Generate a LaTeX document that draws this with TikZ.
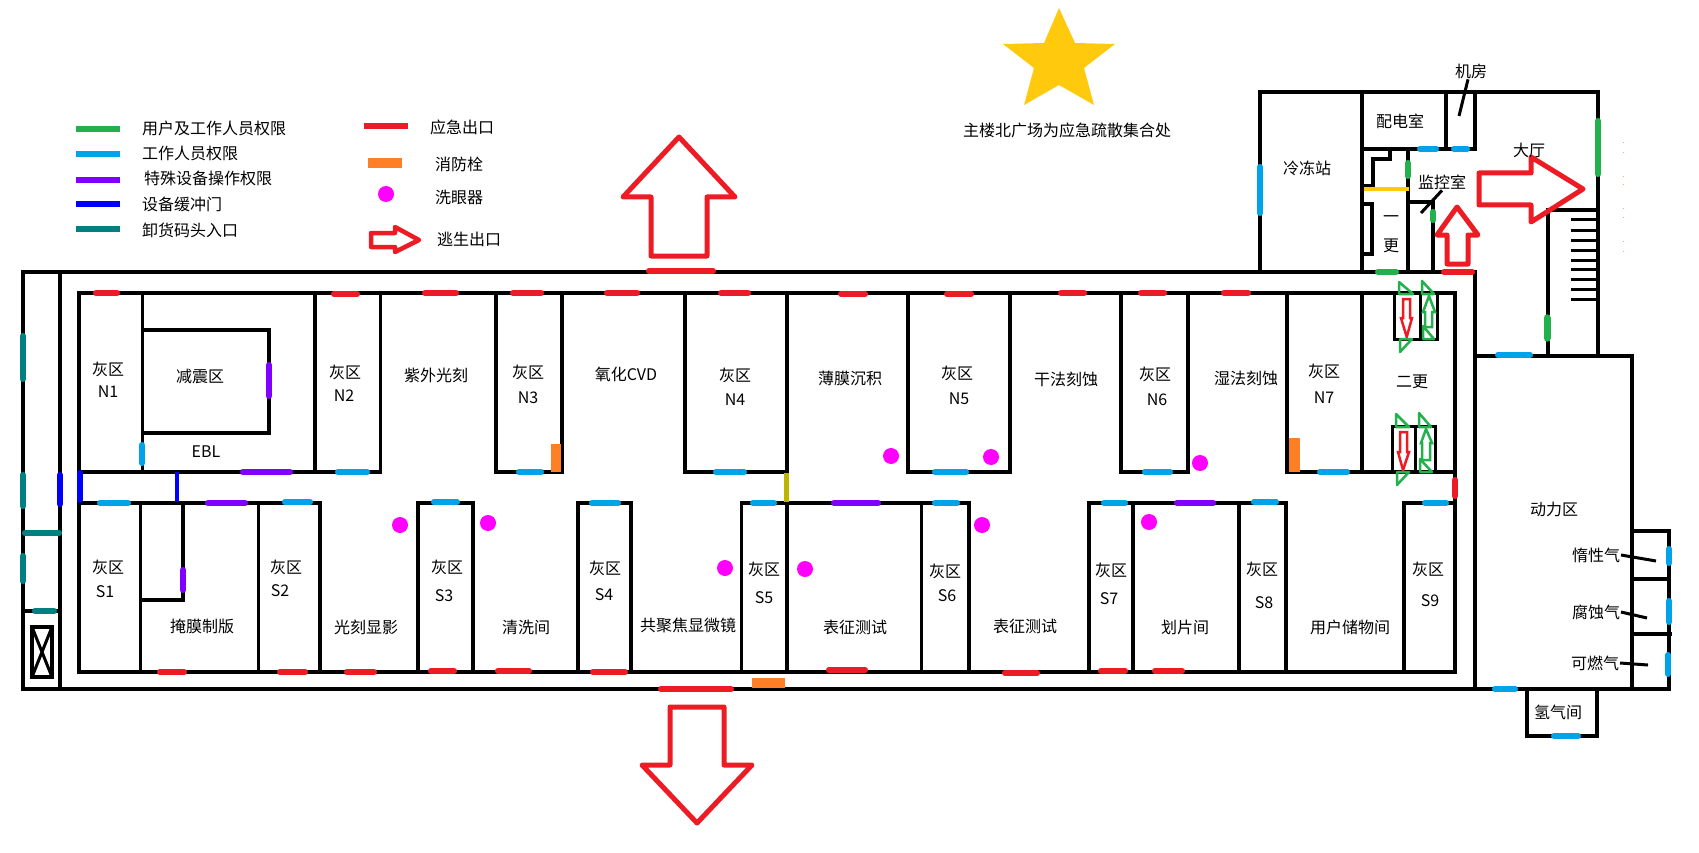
\documentclass[tikz,border=0pt]{standalone}
\usepackage{fontspec}
\setmainfont{Noto Sans CJK SC}
\definecolor{usergreen}{HTML}{22B14C}
\definecolor{staffblue}{HTML}{00A2E8}
\definecolor{specpurple}{HTML}{8000FF}
\definecolor{bufblue}{HTML}{0000FF}
\definecolor{dockteal}{HTML}{008080}
\definecolor{exitred}{HTML}{ED1C24}
\definecolor{hoseorange}{HTML}{FF7F27}
\definecolor{washpink}{HTML}{FF00FF}
\definecolor{staryellow}{HTML}{FFC90E}
\definecolor{gateolive}{HTML}{BCB400}

\begin{document}
\begin{tikzpicture}[x=1pt,y=-1pt,
wall/.style={draw,line width=3.6pt,line cap=rect,line join=miter},
thinwall/.style={draw,line width=3pt,line cap=rect},
door/.style={line width=5.6pt,line cap=round,shorten >=2.8pt,shorten <=2.8pt},
legendline/.style={line width=5.6pt},
leader/.style={line width=3pt},
escape/.style={draw=exitred,line width=5pt,line join=round},
minidown/.style={draw=exitred,line width=2.5pt},
miniup/.style={draw=usergreen,line width=2.5pt},
flag/.style={draw=usergreen,line width=2.5pt,line join=round},
washer/.style={circle,fill=washpink,inner sep=0pt,minimum size=16pt},
txt/.style={font=\fontsize{16}{16}\selectfont,inner sep=0pt,outer sep=1pt},
legendtxt/.style={txt,anchor=west}]

\useasboundingbox (0,0) rectangle (1699,853);

% legend
\foreach \col/\ya in {usergreen/129,staffblue/154,specpurple/180,bufblue/204,dockteal/229}
  \draw[legendline,\col] (76,\ya) -- (120,\ya);
\node[legendtxt] (keyuser) at (141,128) {用户及工作人员权限};
\node[legendtxt] (keystaff) at (141,153) {工作人员权限};
\node[legendtxt] (keyspec) at (143,178) {特殊设备操作权限};
\node[legendtxt] (keybuf) at (141,204) {设备缓冲门};
\node[legendtxt] (keydock) at (141,230) {卸货码头入口};
\draw[legendline,exitred] (364,126) -- (408,126);
\node[legendtxt] (keyexit) at (429,127) {应急出口};
\fill[hoseorange] (368,158) rectangle (402,168);
\node[legendtxt] (keyhose) at (434,164) {消防栓};
\node[washer] (keywash) at (386,194) {};
\node[legendtxt] (keywasher) at (434,197) {洗眼器};
\draw[escape,line width=4.5pt] (371,233) -- (395,233) -- (395,227) -- (419,240) -- (395,252) -- (395,247) -- (371,247) -- cycle;
\node[legendtxt] (keyescape) at (436,239) {逃生出口};

% assembly point
\fill[staryellow] (1059,8) -- (1075,43) -- (1115,44) -- (1084,68) -- (1094,105) -- (1059,85) -- (1024,105) -- (1034,68) -- (1003,44) -- (1044,43) -- cycle;
\node[txt] (assembly) at (1067,130) {主楼北广场为应急疏散集合处};

% outer walls
\draw[wall] (1475,272) -- (23,272) -- (23,689) -- (1669,689) -- (1669,531) -- (1632,531);
\draw[wall] (60,272) -- (60,689);
\draw[wall] (1475,272) -- (1475,689);
\draw[wall] (23,611) -- (60,611);
\draw[wall] (32,627) rectangle (52,677);
\draw[thinwall,line cap=butt] (32,627) -- (52,677) (52,627) -- (32,677);

% north wing and south wing
\draw[wall] (79,672) -- (79,293) -- (1455,293) -- (1455,672) -- cycle;
\foreach \xa in {142.5,315,380.5,496,562,685,787,908,1010,1121,1188,1287,1362}
  \draw[wall] (\xa,293) -- (\xa,472);
\foreach \xa/\xb in {79/380.5,496/562,685/787,908/1010,1121/1188,1287/1455}
  \draw[wall] (\xa,472) -- (\xb,472);
\foreach \xa/\xb in {79/320,418/473,578/631,741.5/969,1089/1286,1404/1455}
  \draw[wall] (\xa,503) -- (\xb,503);
\foreach \xa in {140.5,258.5,320,418,473,578,631,741.5,787,921.5,969,1089,1133,1239,1286,1404}
  \draw[wall] (\xa,503) -- (\xa,672);
\draw[wall] (142.5,330) -- (269,330) -- (269,433) -- (142.5,433);
\draw[wall] (183,503) -- (183,600) -- (140.5,600);

% changing room boxes
\draw[thinwall] (1394,293) -- (1394,339) -- (1437,339) -- (1437,293) (1420,293) -- (1420,339);
\draw[thinwall] (1392,472) -- (1392,426) -- (1435,426) -- (1435,472) (1415,426) -- (1415,472);

% top block
\draw[wall] (1260,272) -- (1260,92) -- (1598,92) -- (1598,356);
\draw[wall] (1362,92) -- (1362,272);
\draw[wall] (1446,92) -- (1446,149);
\draw[wall] (1475,92) -- (1475,149) -- (1362,149);
\draw[wall] (1408,149) -- (1408,272);
\draw[wall] (1390,149) -- (1390,159) -- (1373,159) -- (1373,186) -- (1362,186);
\draw[wall] (1408,202) -- (1433,202) -- (1433,272);
\draw[wall] (1362,204) -- (1372,204) -- (1372,254) -- (1362,254);
\draw[wall] (1598,210) -- (1548,210) -- (1548,356);
\foreach \ya in {219,230,240,250,260,269,279,289,299}
  \draw[line width=3pt] (1571,\ya) -- (1598,\ya);

% utility rooms
\draw[wall] (1475,356) -- (1632,356) -- (1632,689);
\draw[wall] (1632,579) -- (1669,579);
\draw[wall] (1632,634) -- (1670,634);
\draw[wall] (1527,689) -- (1527,736) -- (1597,736) -- (1597,689);

% exits
\foreach \xa/\xb/\ya in {93/120/293,331/360/294,422/459/293,510/544/293,604/640/293,718/751/293,838/868/294,944/974/294,1058/1087/293,1138/1167/293,1221/1251/293,
  157/187/672,277/308/672,344/377/672,428/457/671,495/532/671,590/628/672,826/868/670,1002/1040/673,1098/1128/671,1152/1185/671,
  646/716/271,658/734/689,1441/1475/272}
  \draw[door,exitred] (\xa,\ya) -- (\xb,\ya);
\draw[door,exitred] (1455,477) -- (1455,499);

% staff doors
\foreach \xa/\xb/\ya in {335/370/472,516/544/472,713/747/472,932/969/472,1142/1173/472,1317/1350/472,
  97/131/503,282/313/502,431/460/502,589/621/503,750/777/503,932/960/503,1101/1128/503,1251/1279/502,1422/1449/503,
  1417/1439/149,1451/1470/149,1495/1533/355,1492/1518/689,1551/1581/736}
  \draw[door,staffblue] (\xa,\ya) -- (\xb,\ya);
\foreach \xa/\ya/\yb in {142/442/466,1260/164/216,1669/546/566,1669/598/625,1668/652/677}
  \draw[door,staffblue] (\xa,\ya) -- (\xa,\yb);

% user doors
\foreach \xa/\ya/\yb in {1598/118/177,1408/160/179,1433/209/223}
  \draw[door,usergreen] (\xa,\ya) -- (\xa,\yb);
\draw[door,usergreen,line width=7pt] (1547,315) -- (1547,341);
\draw[door,usergreen] (1375,272) -- (1399,272);

% special doors
\foreach \xa/\xb/\ya in {240/293/472,205/248/503,831/881/503,1174/1216/503}
  \draw[door,specpurple] (\xa,\ya) -- (\xb,\ya);
\foreach \xa/\ya/\yb in {269/362/399,183/567/593}
  \draw[door,specpurple] (\xa,\ya) -- (\xa,\yb);

% buffer doors and dock doors
\foreach \xa/\ya/\yb in {60/472/507,80/470/503}
  \draw[door,bufblue] (\xa,\ya) -- (\xa,\yb);
\draw[bufblue,line width=4pt] (177,472) -- (177,502);
\foreach \ya/\yb in {333/382,472/509,553/584}
  \draw[door,dockteal] (23,\ya) -- (23,\yb);
\draw[door,dockteal] (22,533) -- (62,533);
\draw[door,dockteal] (32,611) -- (57,611);

% other fittings
\draw[door,gateolive,shorten >=0pt,shorten <=0pt,line cap=butt] (786.5,473) -- (786.5,502);
\draw[staryellow,line width=4pt] (1364,189) -- (1409,189);
\fill[hoseorange] (551,444) rectangle (561,472);
\fill[hoseorange] (1289,438) rectangle (1300,472);
\fill[hoseorange] (752,678) rectangle (785,688);
\foreach \xa/\ya [count=\i] in {400/525,488/523,725/568,805/569,891/456,991/457,1200/463,982/525,1149/522}
  \node[washer] (wash\i) at (\xa,\ya) {};
\foreach \ya in {142,152,176,184,208,217,241,251}
  \fill[hoseorange!70] (1622.5,\ya) rectangle +(1,1);

% escape arrows
\draw[escape] (679,137) -- (735,197) -- (707,197) -- (707,256) -- (651,256) -- (651,197) -- (623,197) -- cycle;
\draw[escape] (697,823) -- (752,765) -- (724,765) -- (724,707) -- (670,707) -- (670,765) -- (642,765) -- cycle;
\draw[escape] (1583,189) -- (1531,157) -- (1531,173) -- (1479,173) -- (1479,205) -- (1531,205) -- (1531,222) -- cycle;
\draw[escape] (1457,207) -- (1478,235) -- (1468,235) -- (1468,264) -- (1447,264) -- (1447,235) -- (1437,235) -- cycle;

% changing room arrows
\draw[minidown] (1406.7,337) -- (1412,318) -- (1410,318) -- (1410,299) -- (1403,299) -- (1403,318) -- (1401,318) -- cycle;
\draw[minidown] (1403,470) -- (1409,452) -- (1407,452) -- (1407,432) -- (1400,432) -- (1400,452) -- (1398,452) -- cycle;
\draw[miniup] (1429,296) -- (1435,312) -- (1432,312) -- (1432,327) -- (1425,327) -- (1425,312) -- (1423,312) -- cycle;
\draw[miniup] (1426,429) -- (1432,443) -- (1430,443) -- (1430,460) -- (1422,460) -- (1422,443) -- (1421,443) -- cycle;
\foreach \xa/\ya/\xb/\yb in {1399/282/1413/294,1422/281/1434/294,1400/352/1412/339,1423/326/1434/339,1396/414/1409/427,1419/413/1431/427,1397/485/1409/472,1420/459/1432/472}
  \draw[flag] (\xa,\ya) -- (\xa,\yb) -- (\xb,\yb) -- cycle;

% grey zones
\foreach \nm/\xa/\ya/\xb/\yb in {N1/108/369/108/392,N2/345/372/344/396,N3/528/372/528/398,N4/735/375/735/400,N5/957/373/959/399,N6/1155/374/1157/400,N7/1324/371/1324/398,
  S1/108/567/105/592,S2/286/567/280/591,S3/447/567/444/596,S4/605/568/604/595,S5/764/569/764/598,S6/945/571/947/596,S7/1111/570/1109/599,S8/1262/569/1264/603,S9/1428/569/1430/601}{
  \node[txt] (gray\nm) at (\xa,\ya) {灰区};
  \node[txt] (id\nm) at (\xb,\yb) {\nm};
}

% rooms
\foreach \txtlab/\xa/\ya [count=\i] in {减震区/200/376,EBL/206/452,紫外光刻/436/375,氧化CVD/626/374,薄膜沉积/850/378,干法刻蚀/1066/379,湿法刻蚀/1246/378,二更/1412/382,
  掩膜制版/202/626,光刻显影/366/627,清洗间/526/627,共聚焦显微镜/688/625,表征测试/855/627,表征测试/1025/626,划片间/1185/627,用户储物间/1350/627,
  冷冻站/1307/168,配电室/1400/121,大厅/1529/150,一/1391/219,更/1391/246,动力区/1554/509,氢气间/1558/712}
  \node[txt] (room\i) at (\xa,\ya) {\txtlab};

% gas and machine labels with leaders
\node[txt] (machine) at (1471,71) {机房};
\node[txt] (monitor) at (1442,182) {监控室};
\node[txt] (inert) at (1596,555) {惰性气};
\node[txt] (corrosive) at (1596,612) {腐蚀气};
\node[txt] (burnable) at (1595,663) {可燃气};
\coordinate (machinein) at (1459,116);
\coordinate (monitorin) at (1421,213);
\coordinate (inertin) at (1656,561);
\coordinate (corrosivein) at (1647,618);
\coordinate (burnablein) at (1648,665);
\draw[leader] (machine.south) ++(-3,0) -- (machinein);
\draw[leader] (monitor.south) -- (monitorin);
\draw[leader] (inert.east) -- (inertin);
\draw[leader] (corrosive.east) -- (corrosivein);
\draw[leader] (burnable.east) -- (burnablein);

\end{tikzpicture}
\end{document}
